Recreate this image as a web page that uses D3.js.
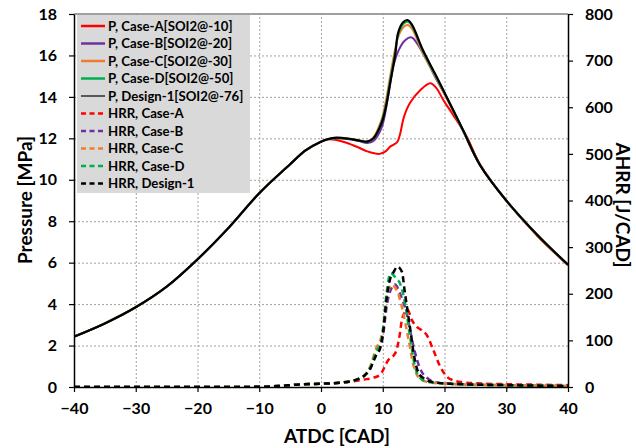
<!DOCTYPE html>
<html>
<head>
<meta charset="utf-8">
<script src="https://cdn.jsdelivr.net/npm/d3@7"></script>
<style>
    body { margin: 0; background: #fff; }
    svg { font-family: Lato, "Liberation Sans", sans-serif; font-weight: bold; }
    .grid line { stroke: #a0a0a0; stroke-dasharray: 2,2; }
    .grid .domain { display: none; }
</style>
</head>
<body>
<svg id="chart"></svg>
<script>
const X_TICKS = [-40, -30, -20, -10, 0, 10, 20, 30, 40];
const P_TICKS = [0, 2, 4, 6, 8, 10, 12, 14, 16, 18];
const HRR_TICKS = [0, 100, 200, 300, 400, 500, 600, 700, 800];

// pressure [MPa] vs ATDC [CAD], shared compression part
const pCommon = [[-40, 2.43], [-35, 3.07], [-30, 3.85], [-25, 4.84], [-20, 6.16], [-15, 7.67], [-10, 9.35],
    [-5, 10.75], [-2.5, 11.42], [0, 11.84], [1, 11.95]];
const pTail = [[25.75, 10.71], [30, 9.0], [35, 7.35], [40, 5.9]];

const pCaseA = [[2.5, 11.92], [4, 11.8], [6, 11.57], [7.5, 11.37], [9.5, 11.25], [10.5, 11.38], [11.2, 11.6],
    [12.3, 11.8], [12.8, 12.2], [13.4, 13.0], [14.4, 13.7], [16.1, 14.33], [17.7, 14.66], [18.7, 14.42],
    [19.8, 13.85], [21.4, 13.13], [23.6, 12.08], [25.75, 10.75], [30, 9.0], [35, 7.3], [40, 5.88]];
const pCaseB = [[2.5, 12.0], [4.5, 11.96], [6, 11.88], [7.5, 11.78], [8.5, 11.87], [9.8, 12.5], [10.8, 13.9],
    [11.7, 15.46], [12.5, 16.2], [13.5, 16.7], [14.7, 16.87], [15.5, 16.6], [17.1, 15.78], [18.5, 14.95],
    [20.35, 13.95], [23, 12.35]];
const pCaseC = [[2.5, 12.02], [4.5, 11.98], [6, 11.92], [7.5, 11.86], [8.5, 12.05], [9.8, 12.9], [10.5, 13.8],
    [11.2, 15.0], [12.0, 16.3], [12.5, 16.9], [13.3, 17.35], [14.0, 17.47], [14.7, 17.3], [16.5, 16.1],
    [18.5, 15.0], [20.35, 13.95], [23, 12.38]];
const pCaseD = [[2.5, 12.02], [4.5, 11.98], [6, 11.9], [7.5, 11.84], [8.5, 12.0], [9.8, 12.8], [10.5, 13.6],
    [11.2, 14.8], [12.0, 16.1], [12.5, 17.0], [13.3, 17.5], [14.0, 17.62], [14.7, 17.45], [16.5, 16.2],
    [18.5, 15.05], [20.35, 14.0], [23, 12.4]];
const pDesign1 = [[2.5, 12.03], [4.5, 11.98], [6, 11.9], [7.5, 11.84], [8.5, 12.0], [9.8, 12.73], [10.5, 13.5],
    [11.2, 14.66], [12.0, 16.0], [12.5, 17.1], [13.3, 17.6], [14.0, 17.71], [14.7, 17.5], [16.5, 16.26],
    [18.5, 15.1], [20.35, 14.0], [23, 12.4]];

// apparent heat release rate [J/CAD]
const hrrCommon = [[-40, 0], [-15, 0], [-10, 0.5], [-7, 2], [-4, 5], [0, 7], [3, 9]];
const hrrCaseA = [[5, 12], [7, 16], [8.5, 20], [9.55, 26], [10.9, 58], [12, 72], [12.7, 108], [13.1, 144],
    [13.6, 161], [14, 166], [14.7, 144], [15.5, 129], [16.3, 122], [17.1, 112], [18.2, 79], [19.3, 44],
    [20.4, 22], [21.5, 14], [23, 10], [25, 8], [30, 6], [35, 5], [40, 4]];
const hrrCaseB = [[5, 13], [6, 17], [7, 24], [8, 40], [9, 75], [9.6, 85], [10.1, 115], [10.6, 170], [11.2, 205],
    [12, 220], [12.8, 200], [13.85, 159], [15, 86], [16, 41], [17.65, 15], [19, 9], [21, 7], [25, 5], [30, 4],
    [35, 3], [40, 2]];
const hrrCaseC = [[5, 13], [6, 17], [7, 25], [8, 45], [9, 85], [9.6, 100], [10, 120], [10.6, 190], [11.4, 219],
    [12.5, 200], [13.3, 160], [14.2, 100], [15, 45], [16, 18], [17.5, 10], [20, 7], [25, 5], [30, 4], [35, 3],
    [40, 2]];
const hrrCaseD = [[5, 13], [6, 17], [7, 24], [8, 42], [9, 78], [9.6, 90], [10.1, 130], [10.6, 200], [11.3, 244],
    [12.2, 232], [12.8, 222], [13.6, 180], [14.4, 110], [15.2, 45], [16, 20], [17, 12], [18.5, 9], [21, 7],
    [25, 5], [30, 4], [35, 3], [40, 2]];
const hrrDesign1 = [[5, 13], [6, 17], [7, 24], [8, 40], [9, 70], [9.55, 82], [10.1, 122], [10.6, 187], [11.2, 232],
    [11.7, 245], [12.4, 258], [13.1, 247], [13.6, 201], [14.4, 129], [15.2, 58], [15.8, 30], [16.6, 19],
    [18.2, 10], [20.9, 7], [25, 5], [30, 4], [35, 3], [40, 2]];

const SERIES_LABELS = ['P, Case-A[SOI2@-10]', 'P, Case-B[SOI2@-20]', 'P, Case-C[SOI2@-30]',
    'P, Case-D[SOI2@-50]', 'P, Design-1[SOI2@-76]', 'HRR, Case-A', 'HRR, Case-B', 'HRR, Case-C',
    'HRR, Case-D', 'HRR, Design-1'];
const COLORS = ['#ff0000', '#7030a0', '#ed7d31', '#00b050', '#000000'];

const WIDTH = 636;
const HEIGHT = 448;
const MARGIN = { top: 14, right: 68, bottom: 61, left: 74 };

const svg = d3.select('#chart')
    .attr('width', WIDTH)
    .attr('height', HEIGHT);

const x = d3.scaleLinear().domain([-40, 40]).range([MARGIN.left, WIDTH - MARGIN.right]);
const yP = d3.scaleLinear().domain([0, 18]).range([HEIGHT - MARGIN.bottom, MARGIN.top]);
const yH = d3.scaleLinear().domain([0, 800]).range([HEIGHT - MARGIN.bottom, MARGIN.top]);

// grid
svg.append('g')
    .attr('class', 'grid')
    .attr('transform', 'translate(0,' + (HEIGHT - MARGIN.bottom) + ')')
    .call(d3.axisBottom(x).tickValues(X_TICKS.slice(1, -1)).tickSize(-(yP.range()[0] - yP.range()[1])).tickFormat(''));
svg.append('g')
    .attr('class', 'grid')
    .attr('transform', 'translate(' + MARGIN.left + ',0)')
    .call(d3.axisLeft(yP).tickValues(P_TICKS.slice(1, -1)).tickSize(-(x.range()[1] - x.range()[0])).tickFormat(''));
svg.append('line')
    .attr('x1', x(-40)).attr('x2', x(40))
    .attr('y1', yP(18)).attr('y2', yP(18))
    .attr('stroke', '#808080')
    .attr('stroke-width', 1.5);

svg.append('clipPath').attr('id', 'plot')
    .append('rect')
    .attr('x', x(-40)).attr('y', yP(18))
    .attr('width', x(40) - x(-40)).attr('height', yP(0) - yP(18));

const plot = svg.append('g').attr('clip-path', 'url(#plot)');

const lineP = d3.line().x(d => x(d[0])).y(d => yP(d[1])).curve(d3.curveCatmullRom.alpha(0.5));
const lineH = d3.line().x(d => x(d[0])).y(d => yH(d[1])).curve(d3.curveMonotoneX);

const hrrSeries = [hrrCaseA, hrrCaseB, hrrCaseC, hrrCaseD, hrrDesign1].map(s => hrrCommon.concat(s));
const pSeries = [
    pCommon.concat(pCaseA),
    pCommon.concat(pCaseB, pTail),
    pCommon.concat(pCaseC, pTail),
    pCommon.concat(pCaseD, pTail),
    pCommon.concat(pDesign1, pTail),
];

hrrSeries.forEach((s, i) => {
    plot.append('path')
        .attr('d', lineH(s))
        .attr('fill', 'none')
        .attr('stroke', COLORS[i])
        .attr('stroke-width', 2.5)
        .attr('stroke-dasharray', '6,4');
});

pSeries.forEach((s, i) => {
    plot.append('path')
        .attr('d', lineP(s))
        .attr('fill', 'none')
        .attr('stroke', COLORS[i])
        .attr('stroke-width', i === 4 ? 2.2 : 2);
});

// axes
function styleAxis(g) {
    g.selectAll('.domain').attr('stroke', '#000').attr('stroke-width', 1.5);
    g.selectAll('.tick line').attr('stroke', '#000').attr('stroke-width', 1.2);
    g.selectAll('.tick text').attr('font-size', 16).attr('font-weight', 'bold').attr('fill', '#000')
        .attr('font-family', 'Lato, sans-serif');
}

svg.append('g')
    .attr('transform', 'translate(0,' + (HEIGHT - MARGIN.bottom) + ')')
    .call(d3.axisBottom(x).tickValues(X_TICKS).tickSize(5).tickSizeOuter(0).tickPadding(11))
    .call(styleAxis);
svg.append('g')
    .attr('transform', 'translate(' + MARGIN.left + ',0)')
    .call(d3.axisLeft(yP).tickValues(P_TICKS).tickSize(5).tickSizeOuter(0).tickPadding(12))
    .call(styleAxis);
svg.append('g')
    .attr('transform', 'translate(' + (WIDTH - MARGIN.right) + ',0)')
    .call(d3.axisRight(yH).tickValues(HRR_TICKS).tickSize(5).tickSizeOuter(0).tickPadding(12))
    .call(styleAxis);

// axis titles
svg.append('text')
    .attr('x', 337).attr('y', 443)
    .attr('text-anchor', 'middle')
    .attr('font-size', 19)
    .text('ATDC [CAD]');
svg.append('text')
    .attr('transform', 'translate(32,' + 200 + ') rotate(-90)')
    .attr('text-anchor', 'middle')
    .attr('font-size', 19)
    .text('Pressure [MPa]');
svg.append('text')
    .attr('transform', 'translate(616,' + 205 + ') rotate(90)')
    .attr('text-anchor', 'middle')
    .attr('font-size', 19)
    .text('AHRR [J/CAD]');

// legend
const legend = svg.append('g');
legend.append('rect')
    .attr('x', 77).attr('y', 15)
    .attr('width', 173).attr('height', 178)
    .attr('fill', '#d9d9d9');

SERIES_LABELS.forEach((label, i) => {
    const cy = 26 + i * 17.5;
    const dashed = i >= 5;
    legend.append('line')
        .attr('x1', 81).attr('x2', 105)
        .attr('y1', cy).attr('y2', cy)
        .attr('stroke', COLORS[i % 5])
        .attr('stroke-width', i === 4 ? 1.2 : 2.5)
        .attr('stroke-dasharray', dashed ? '5,3.5' : null);
    legend.append('text')
        .attr('x', 108).attr('y', cy)
        .attr('dy', '0.35em')
        .attr('font-size', 13.2)
        .text(label);
});
</script>
</body>
</html>
